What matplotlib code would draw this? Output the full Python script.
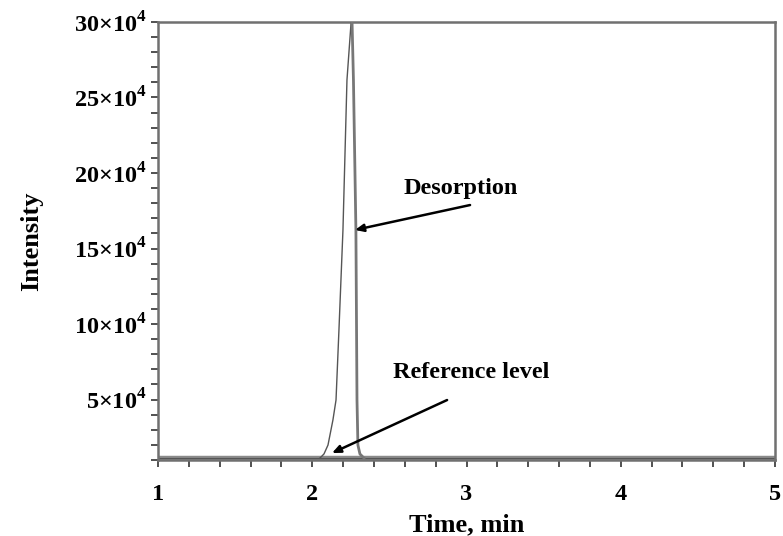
import matplotlib
matplotlib.use('Agg')
import matplotlib.pyplot as plt
from matplotlib.ticker import MultipleLocator, FuncFormatter

# Desorption peak, time in min and intensity in counts
peak_time = [2.050, 2.076, 2.102, 2.134, 2.154, 2.173, 2.199, 2.225, 2.251, 2.258,
             2.267, 2.283, 2.290, 2.296, 2.309, 2.335]
peak_int = [1.13e4, 1.40e4, 1.99e4, 3.65e4, 4.97e4, 9.61e4, 16.23e4, 26.16e4, 29.87e4, 30.0e4,
            26.16e4, 16.23e4, 4.97e4, 1.99e4, 1.40e4, 1.13e4]
apex = 9

# Reference level (flat baseline)
base_time = [1.0, 5.0]
base_int = [1.13e4, 1.13e4]

plt.rcParams['font.family'] = 'Liberation Serif'
plt.rcParams['font.weight'] = 'bold'
plt.rcParams['mathtext.fontset'] = 'custom'
plt.rcParams['mathtext.rm'] = 'Liberation Serif:bold'
plt.rcParams['mathtext.bf'] = 'Liberation Serif:bold'

fig = plt.figure(figsize=(7.83, 5.36), dpi=100)
ax = fig.add_axes([0.2018, 0.1418, 0.788, 0.8172])

ax.plot(base_time, base_int, color='#8a8a8a', lw=3.2, solid_capstyle='butt', zorder=2)
ax.plot(base_time, base_int, color='#555555', lw=0.8, zorder=2)
ax.plot(peak_time[:apex + 1], peak_int[:apex + 1], color='#555555', lw=1.0, zorder=3)
ax.plot(peak_time[apex:], peak_int[apex:], color='#777777', lw=2.0, zorder=3)

ax.set_xlim(1, 5)
ax.set_ylim(1e4, 30e4)
ax.xaxis.set_major_locator(MultipleLocator(1))
ax.xaxis.set_minor_locator(MultipleLocator(0.2))
ax.yaxis.set_major_locator(MultipleLocator(5e4))
ax.yaxis.set_minor_locator(MultipleLocator(1e4))
ax.yaxis.set_major_formatter(FuncFormatter(
    lambda v, p: r'$%d{\times}10^{4}$' % round(v / 1e4)))

for s in ax.spines.values():
    s.set_color('#707070')
    s.set_linewidth(1.8)

ax.tick_params(which='both', direction='out', length=5, width=1.2, color='#333333',
               labelsize=17.5)
ax.tick_params(axis='y', pad=3)
ax.tick_params(axis='x', pad=12)

ax.set_xlabel('Time, min', fontsize=19, fontweight='bold', labelpad=6)
ax.set_ylabel('Intensity', fontsize=19, fontweight='bold', labelpad=22)

arrow = dict(arrowstyle='-|>,head_length=0.5,head_width=0.22', color='black', lw=1.8,
             shrinkA=0, shrinkB=0)
ax.annotate('', xy=(2.277, 16.23e4), xytext=(3.023, 17.88e4), arrowprops=arrow)
ax.text(2.964, 19.0e4, 'Desorption', fontsize=17.5, fontweight='bold',
        ha='center', va='center')
ax.annotate('', xy=(2.128, 1.46e4), xytext=(2.874, 4.97e4), arrowprops=arrow)
ax.text(3.03, 6.76e4, 'Reference level', fontsize=17.5, fontweight='bold',
        ha='center', va='center')

fig.savefig('out.png', dpi=100)
